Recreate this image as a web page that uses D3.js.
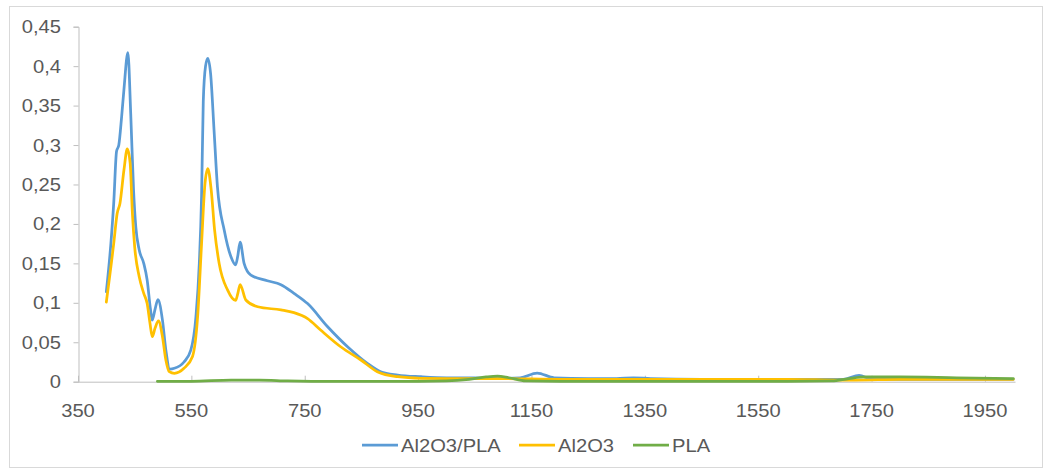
<!DOCTYPE html>
<html>
<head>
<meta charset="utf-8">
<script src="https://cdn.jsdelivr.net/npm/d3@7"></script>
<style>
  body { margin: 0; background: #fff; }
  text { font-family: "Liberation Sans", Arial, sans-serif; fill: #595959; }
</style>
</head>
<body>
<div id="vis"></div>
<script>
// tick labels
let xTicks = [350, 550, 750, 950, 1150, 1350, 1550, 1750, 1950]
let yTicks = [0, 0.05, 0.1, 0.15, 0.2, 0.25, 0.3, 0.35, 0.4, 0.45]

// series names
let seriesNames = ['Al2O3/PLA', 'Al2O3', 'PLA']
let seriesColors = ['#5B9BD5', '#FFC000', '#70AD47']

// Al2O3/PLA
let blueX = [400, 408, 413, 418, 422, 427, 431, 438, 443, 448, 452, 458, 466, 472, 478, 481, 486, 491, 499, 505,
  512, 520, 537, 549, 558, 564, 568, 571, 575, 579, 584, 590, 596, 608, 620, 628, 632, 636, 643, 655,
  684, 708, 731, 755, 790, 826, 861, 884, 914, 955, 1000, 1050, 1090, 1130, 1160, 1190, 1250, 1300, 1330, 1360,
  1450, 1550, 1650, 1700, 1728, 1750, 1850, 2000]
let blueY = [0.114, 0.175, 0.226, 0.292, 0.300, 0.336, 0.370, 0.417, 0.340, 0.243, 0.196, 0.167, 0.150, 0.129, 0.091, 0.078, 0.092, 0.104, 0.078, 0.040,
  0.016, 0.017, 0.025, 0.040, 0.082, 0.150, 0.235, 0.355, 0.400, 0.410, 0.390, 0.319, 0.247, 0.192, 0.158, 0.148, 0.160, 0.177, 0.150, 0.135,
  0.128, 0.123, 0.112, 0.099, 0.070, 0.044, 0.023, 0.0127, 0.0085, 0.0063, 0.005, 0.005, 0.004, 0.005, 0.011, 0.005, 0.004, 0.004, 0.005, 0.004,
  0.003, 0.003, 0.003, 0.003, 0.008, 0.003, 0.003, 0.003]

// Al2O3
let yellowX = [400, 413, 419, 424, 431, 437, 442, 446, 450, 458, 466, 472, 477, 481, 486, 492, 499, 505, 511, 520,
  537, 552, 561, 568, 574, 579, 585, 591, 599, 614, 628, 632, 636, 646, 667, 708, 731, 755, 778, 814,
  849, 878, 914, 955, 1000, 1100, 1200, 1400, 1600, 1700, 1720, 1800, 2000]
let yellowY = [0.101, 0.175, 0.213, 0.226, 0.268, 0.295, 0.277, 0.213, 0.171, 0.133, 0.112, 0.099, 0.074, 0.057, 0.068, 0.077, 0.057, 0.0275, 0.0127, 0.0106,
  0.017, 0.032, 0.082, 0.175, 0.251, 0.270, 0.243, 0.192, 0.150, 0.116, 0.103, 0.112, 0.123, 0.1036, 0.095, 0.091, 0.0875, 0.080, 0.0655, 0.044,
  0.0275, 0.0127, 0.0063, 0.0043, 0.004, 0.004, 0.003, 0.003, 0.003, 0.002, 0.002, 0.003, 0.003]

// PLA
let greenX = [490, 550, 620, 670, 720, 800, 900, 1000, 1040, 1070, 1090, 1110, 1140, 1200, 1400, 1600, 1680, 1710, 1740, 1800, 1900, 2000]
let greenY = [0.0005, 0.0005, 0.002, 0.002, 0.001, 0.0003, 0.0003, 0.001, 0.003, 0.006, 0.007, 0.005, 0.001, 0.0005, 0.0005, 0.0005, 0.001, 0.004, 0.006, 0.006, 0.005, 0.004]

let W = 1051, H = 471
let stretch = 1.12 // the picture's text looks a bit wide

let svg = d3.select('#vis')
  .append('svg')
  .attr('width', W)
  .attr('height', H)

// chart frame
svg.append('rect')
  .attr('x', 9.5).attr('y', 6.5)
  .attr('width', 1033).attr('height', 461)
  .attr('fill', 'white')
  .attr('stroke', '#d9d9d9')

let x = d3.scaleLinear().domain([350, 2003]).range([78, 1015])
let y = d3.scaleLinear().domain([0, 0.45]).range([381.7, 26.7])

let fmt = d => String(+d.toFixed(2)).replace('.', ',')

// y axis
let yAxis = svg.append('g').attr('transform', 'translate(78.5,0)')
  .call(d3.axisLeft(y).tickValues(yTicks).tickSize(5).tickFormat(''))
yAxis.select('.domain').attr('stroke', '#bfbfbf')
yAxis.selectAll('.tick line').attr('stroke', '#bfbfbf')

yTicks.forEach(t => {
  svg.append('text')
    .attr('transform', `translate(61,${y(t) + 6.5}) scale(${stretch},1)`)
    .attr('text-anchor', 'end')
    .attr('font-size', 18)
    .text(fmt(t))
})

// x axis
let xAxis = svg.append('g').attr('transform', 'translate(0,381.7)')
  .call(d3.axisBottom(x).tickValues(xTicks).tickSize(-6).tickSizeOuter(0).tickFormat(''))
xAxis.select('.domain').attr('stroke', '#bfbfbf')
xAxis.selectAll('.tick line').attr('stroke', '#bfbfbf')

xTicks.forEach(t => {
  svg.append('text')
    .attr('transform', `translate(${x(t)},417) scale(${stretch},1)`)
    .attr('text-anchor', 'middle')
    .attr('font-size', 18)
    .text(t)
})

// lines
let line = d3.line()
  .x(d => x(d[0]))
  .y(d => y(d[1]))
  .curve(d3.curveMonotoneX)

let series = [
  d3.zip(blueX, blueY),
  d3.zip(yellowX, yellowY),
  d3.zip(greenX, greenY)
]

// drawn in series order, green ends up on top
series.forEach((s, i) => {
  svg.append('path')
    .datum(s)
    .attr('d', line)
    .attr('fill', 'none')
    .attr('stroke', seriesColors[i])
    .attr('stroke-width', 2.75)
    .attr('stroke-linejoin', 'round')
    .attr('stroke-linecap', 'round')
})

// legend
let legendX = [362, 519, 633]
seriesNames.forEach((n, i) => {
  svg.append('line')
    .attr('x1', legendX[i]).attr('x2', legendX[i] + 36)
    .attr('y1', 445).attr('y2', 445)
    .attr('stroke', seriesColors[i])
    .attr('stroke-width', 2.75)
  svg.append('text')
    .attr('transform', `translate(${legendX[i] + 39},451.5) scale(${stretch},1)`)
    .attr('font-size', 18)
    .text(n)
})
</script>
</body>
</html>
